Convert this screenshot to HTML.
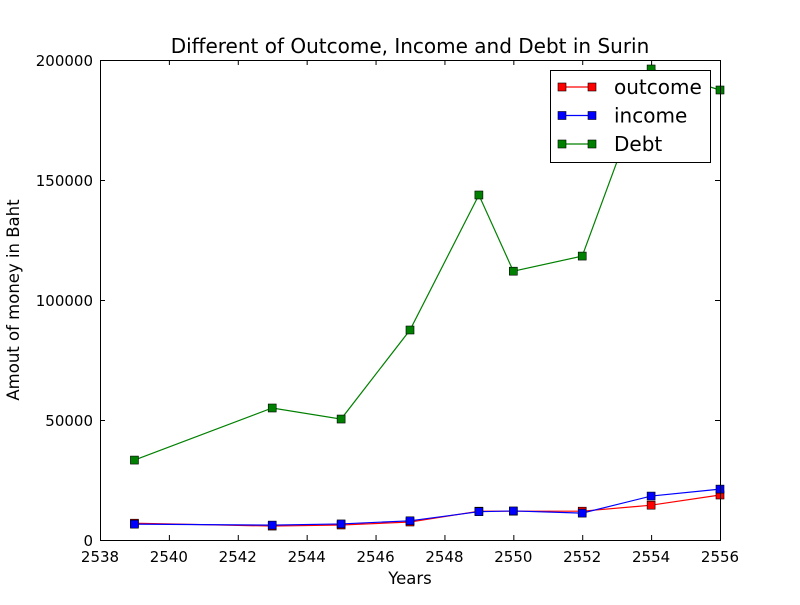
<!DOCTYPE html>
<html><head><meta charset="utf-8"><style>body{margin:0;background:#fff}svg{font-family:"DejaVu Sans","Liberation Sans",sans-serif}</style></head>
<body>
<svg id="c" width="800" height="600" viewBox="0 0 800 600">
<rect width="800" height="600" fill="#fff"/>
<text x="410" y="53" font-size="20" text-anchor="middle">Different of Outcome, Income and Debt in Surin</text>
<text x="410" y="584" font-size="16.5" text-anchor="middle">Years</text>
<text transform="translate(19,300) rotate(-90)" font-size="16.5" text-anchor="middle">Amout of money in Baht</text>
<g id="ticks"></g>
<g id="series"></g>
<g id="legend">
<rect x="550.5" y="70.5" width="160" height="92" fill="#fff" stroke="#000"/>
</g>
<rect x="100.5" y="60.5" width="620" height="480" fill="none" stroke="#000"/>
</svg>
<script>
const years=[2539,2543,2545,2547,2549,2550,2552,2554,2556];
const outcome=[7000,5800,6250,7500,12000,12000,12000,14500,18750];
const income=[6600,6200,6700,8000,11800,12100,11200,18300,21200];
const debt=[33300,55000,50400,87500,143750,112000,118300,196250,187500];
const xTicks=[2538,2540,2542,2544,2546,2548,2550,2552,2554,2556];
const yTicks=[0,50000,100000,150000,200000];
const names=['outcome','income','Debt'];
const colors=['#ff0000','#0000ff','#008000'];
const X=v=>100+(v-2538)/18*620;
const Y=v=>540-v/200000*480;
const NS='http://www.w3.org/2000/svg';
function mk(t,a,p){const e=document.createElementNS(NS,t);for(const k in a)e.setAttribute(k,a[k]);p.appendChild(e);return e;}
const tg=document.getElementById('ticks');
xTicks.forEach(t=>{const x=X(t)+0.5;
const l=mk('path',{d:`M${x} 540V535M${x} 60V65`,stroke:'#000'},tg);


const tx=mk('text',{x:X(t),y:562,'font-size':15,'text-anchor':'middle'},tg);tx.textContent=t;

});
yTicks.forEach(t=>{const y=Y(t)+0.5;
const l=mk('path',{d:`M100 ${y}H105M720 ${y}H715`,stroke:'#000'},tg);


const tx=mk('text',{x:93,y:Y(t)+6,'font-size':15,'text-anchor':'end'},tg);tx.textContent=t;

});
const sg=document.getElementById('series');
[outcome,income,debt].forEach((s,i)=>{
const g=mk('g',{},sg);


const pl=mk('polyline',{points:s.map((v,j)=>X(years[j])+','+Y(v)).join(' '),fill:'none',stroke:colors[i],'stroke-width':1.2},g);


s.forEach((v,j)=>{const r=mk('rect',{x:X(years[j])-4,y:Y(v)-4,width:8,height:8,fill:colors[i],stroke:'#000','stroke-width':0.6},g);

});
});
const lg=document.getElementById('legend');
names.forEach((n,i)=>{const y=87+i*28.5;
const g=mk('g',{},lg);


mk('line',{x1:562,x2:592,y1:y,y2:y,stroke:colors[i],'stroke-width':1.2},g);
mk('rect',{x:558,y:y-4,width:8,height:8,fill:colors[i],stroke:'#000','stroke-width':0.6},g);
mk('rect',{x:588,y:y-4,width:8,height:8,fill:colors[i],stroke:'#000','stroke-width':0.6},g);
const t=mk('text',{x:614,y:y+7,'font-size':20},g);t.textContent=n;});
</script>
</body></html>
